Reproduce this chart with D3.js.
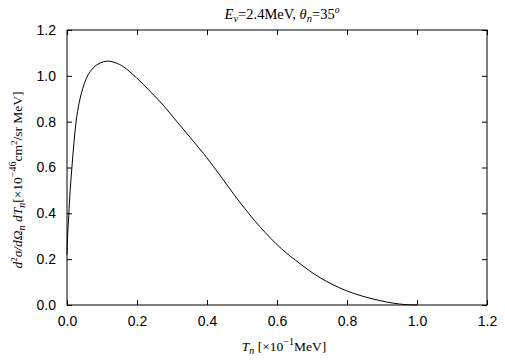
<!DOCTYPE html>
<html><head><meta charset="utf-8">
<script src="https://cdn.jsdelivr.net/npm/d3@7"></script>
<style>body{margin:0;background:#fff}svg{display:block}</style>
</head><body>
<script>
const tnValues = [0, 0.002, 0.005, 0.009, 0.014, 0.02, 0.026, 0.035, 0.045, 0.055, 0.066, 0.085, 0.104, 0.118, 0.14, 0.161, 0.199, 0.237, 0.275, 0.313, 0.351, 0.39, 0.428, 0.494, 0.551, 0.613, 0.666, 0.723, 0.799, 0.875, 0.951, 1.0];
const crossSection = [0.22, 0.31, 0.39, 0.50, 0.60, 0.71, 0.80, 0.885, 0.945, 0.988, 1.018, 1.048, 1.061, 1.064, 1.056, 1.040, 0.991, 0.933, 0.872, 0.802, 0.733, 0.661, 0.585, 0.448, 0.342, 0.245, 0.180, 0.119, 0.062, 0.026, 0.004, 0.0];
const xTicks = [0.0, 0.2, 0.4, 0.6, 0.8, 1.0, 1.2];
const yTicks = [0.0, 0.2, 0.4, 0.6, 0.8, 1.0, 1.2];

const W = 505, H = 361;
const m = {l: 67, r: 18, t: 30, b: 56};
const svg = d3.select("body").append("svg").attr("width", W).attr("height", H);
const x = d3.scaleLinear().domain([0, 1.2]).range([m.l, W - m.r]);
const y = d3.scaleLinear().domain([0, 1.2]).range([H - m.b, m.t]);
const fmt = d3.format(".1f");
const tickFont = "Liberation Sans, Arial, sans-serif";

function styleAxis(g) {
  g.selectAll("path.domain").remove();
  g.selectAll("line").attr("stroke", "#000").attr("stroke-width", 1);
  g.selectAll("text").attr("font-family", tickFont).attr("font-size", 14).attr("fill", "#000");
}
svg.append("g").attr("transform", `translate(0,${y(0)})`)
  .call(d3.axisBottom(x).tickValues(xTicks).tickFormat(fmt).tickSizeInner(-5).tickSizeOuter(0).tickPadding(11))
  .call(styleAxis);
svg.append("g").attr("transform", `translate(0,${y(1.2)})`)
  .call(d3.axisTop(x).tickValues(xTicks).tickFormat("").tickSizeInner(-5).tickSizeOuter(0))
  .call(styleAxis);
svg.append("g").attr("transform", `translate(${x(0)},0)`)
  .call(d3.axisLeft(y).tickValues(yTicks).tickFormat(fmt).tickSizeInner(-5).tickSizeOuter(0).tickPadding(11))
  .call(styleAxis);
svg.append("g").attr("transform", `translate(${x(1.2)},0)`)
  .call(d3.axisRight(y).tickValues(yTicks).tickFormat("").tickSizeInner(-5).tickSizeOuter(0))
  .call(styleAxis);

svg.append("rect").attr("x", x(0)).attr("y", y(1.2)).attr("width", x(1.2) - x(0)).attr("height", y(0) - y(1.2))
  .attr("fill", "none").attr("stroke", "#000").attr("stroke-width", 1);

const pts = tnValues.map((v, i) => [v, crossSection[i]]);
svg.append("path").datum(pts)
  .attr("fill", "none").attr("stroke", "#000").attr("stroke-width", 1)
  .attr("d", d3.line().x(d => x(d[0])).y(d => y(d[1])).curve(d3.curveCatmullRom.alpha(0.5)));

const serif = "Liberation Serif, Times New Roman, serif";
// Title
const t = svg.append("text").attr("x", 282).attr("y", 19).attr("text-anchor", "middle")
  .attr("font-family", serif).attr("font-size", 14.5).attr("fill", "#000");
t.append("tspan").attr("font-style", "italic").text("E");
t.append("tspan").attr("font-style", "italic").attr("font-size", 10.5).attr("dy", 3).text("ν");
t.append("tspan").attr("dy", -3).text("=2.4MeV,   ");
t.append("tspan").attr("font-style", "italic").text("θ");
t.append("tspan").attr("font-style", "italic").attr("font-size", 10.5).attr("dy", 3).text("n");
t.append("tspan").attr("dy", -3).text("=35");
t.append("tspan").attr("font-style", "italic").attr("font-size", 9.5).attr("dy", -6).text("o");

// X label
const xl = svg.append("text").attr("x", 284).attr("y", 351).attr("text-anchor", "middle")
  .attr("font-family", serif).attr("font-size", 13.5).attr("fill", "#000");
xl.append("tspan").attr("font-style", "italic").text("T");
xl.append("tspan").attr("font-style", "italic").attr("font-size", 10).attr("dy", 3).text("n");
xl.append("tspan").attr("dy", -3).text(" [×10");
xl.append("tspan").attr("font-size", 10).attr("dy", -6).text("−1");
xl.append("tspan").attr("dy", 6).text("MeV]");

// Y label
const yl = svg.append("text").attr("transform", "translate(22,180) rotate(-90)").attr("text-anchor", "middle")
  .attr("font-family", serif).attr("font-size", 13.5).attr("fill", "#000");
yl.append("tspan").attr("font-style", "italic").text("d");
yl.append("tspan").attr("font-size", 9).attr("dy", -5).text("2");
yl.append("tspan").attr("dy", 5).attr("font-style", "italic").text("σ/dΩ");
yl.append("tspan").attr("font-style", "italic").attr("font-size", 10).attr("dy", 3).text("n");
yl.append("tspan").attr("dy", -3).attr("font-style", "italic").text(" dT");
yl.append("tspan").attr("font-style", "italic").attr("font-size", 10).attr("dy", 3).text("n");
yl.append("tspan").attr("dy", -3).text("[×10");
yl.append("tspan").attr("font-size", 10).attr("dy", -6).text("−46");
yl.append("tspan").attr("dy", 6).text("cm");
yl.append("tspan").attr("font-size", 9).attr("dy", -5).text("2");
yl.append("tspan").attr("dy", 5).text("/sr MeV]");
</script>
</body></html>
